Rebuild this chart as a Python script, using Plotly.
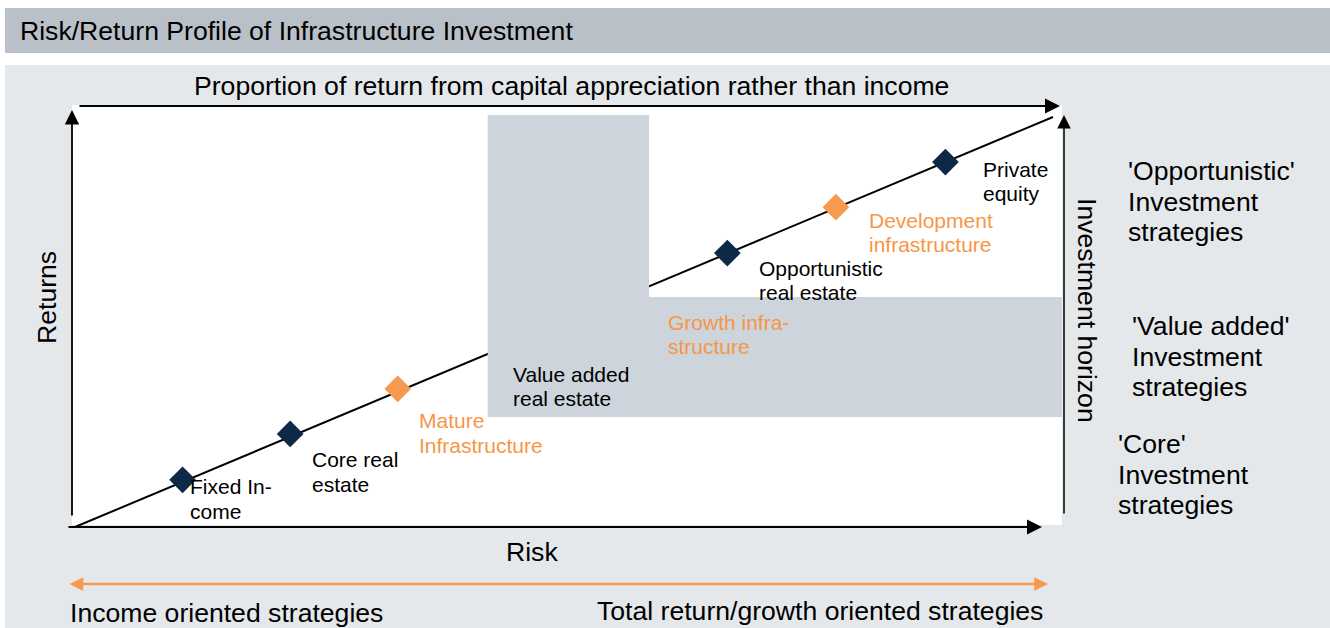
import plotly.graph_objects as go

W, H = 1330, 628

# ---------------- data ----------------
categories = ["Fixed Income", "Core real estate", "Mature Infrastructure",
              "Opportunistic real estate", "Development infrastructure", "Private equity"]
risk = [1.1, 2.2, 3.3, 6.67, 7.78, 8.9]
returns = [1.15, 2.27, 3.37, 6.68, 7.8, 8.9]
is_infrastructure = [False, False, True, False, True, False]
label_lines = [["Fixed In-", "come"], ["Core real", "estate"], ["Mature", "Infrastructure"],
               ["Opportunistic", "real estate"], ["Development", "infrastructure"], ["Private", "equity"]]

trend_risk = [0, 10]
trend_return = [0, 10]

zone_risk = [4.22, 4.22, 5.87, 5.87, 10.09, 10.09, 4.22]
zone_return = [2.68, 10.05, 10.05, 5.61, 5.61, 2.68, 2.68]
zone_labels = [["Value added", "real estate"], ["Growth infra-", "structure"]]

tier_labels = [["'Opportunistic'", "Investment", "strategies"],
               ["'Value added'", "Investment", "strategies"],
               ["'Core'", "Investment", "strategies"]]

# ---------------- style / layout ----------------
FONT = "Liberation Sans, Arial, sans-serif"
NAVY = "#0e2848"
ORANGE = "#f59a4e"
ORANGE_TXT = "#f79646"
ZONE = "#cdd4db"
PANEL = "#e5e8eb"
BAR = "#b9c0c7"
BIG = 26.6

# pixel mapping of data axes (plot spans full figure)
X0PX, SX = 75, 97.8
Y0PX, SY = 527, 41.0


def px(x):
    return x / W


def py(y):
    return 1 - y / H


fig = go.Figure()

fig.add_trace(go.Scatter(x=trend_risk, y=trend_return, mode="lines",
                         line=dict(color="black", width=2), hoverinfo="skip", showlegend=False))
fig.add_trace(go.Scatter(x=zone_risk, y=zone_return, mode="lines", fill="toself",
                         fillcolor=ZONE, line=dict(width=0, color=ZONE),
                         hoverinfo="skip", showlegend=False))
fig.add_trace(go.Scatter(x=risk, y=returns, mode="markers", text=categories,
                         marker=dict(symbol="diamond", size=20.5,
                                     color=[ORANGE if f else NAVY for f in is_infrastructure],
                                     line=dict(width=0)),
                         hoverinfo="text", showlegend=False))

shapes = [
    dict(type="rect", xref="paper", yref="paper", x0=px(5), x1=px(1330), y0=py(53), y1=py(8),
         fillcolor=BAR, line=dict(width=0), layer="below"),
    dict(type="rect", xref="paper", yref="paper", x0=px(5), x1=px(1330), y0=py(628), y1=py(65),
         fillcolor=PANEL, line=dict(width=0), layer="below"),
    dict(type="rect", xref="paper", yref="paper", x0=px(72), x1=px(1062), y0=py(525), y1=py(105),
         fillcolor="white", line=dict(width=0), layer="below"),
]

ann = []


def text(t, x, y, size=BIG, color="black", xanchor="left", angle=0):
    ann.append(dict(text=t, x=px(x), y=py(y), xref="paper", yref="paper", showarrow=False,
                    xanchor=xanchor, yanchor="middle", textangle=angle,
                    font=dict(family=FONT, size=size, color=color)))


def arrow(x0, y0, x1, y1, color="black", width=2, size=1.5, side="end"):
    ann.append(dict(text="", x=px(x1), y=py(y1), xref="paper", yref="paper",
                    ax=x0 - x1, ay=y0 - y1, axref="pixel", ayref="pixel",
                    showarrow=True, arrowhead=2, arrowsize=size, arrowwidth=width,
                    arrowcolor=color, arrowside=side, startarrowhead=2, startarrowsize=size,
                    standoff=0, startstandoff=0))


# title
text("Risk/Return Profile of Infrastructure Investment", 18, 31)

# axes arrows
arrow(72, 517, 72, 110, width=1.8, size=1.6)
arrow(67, 527, 1042, 527, width=2, size=1.5)
arrow(78, 106, 1060, 106, width=2, size=1.5)
arrow(1064, 515, 1064, 115, width=1.5, size=1.8)
arrow(68, 584, 1048, 584, color=ORANGE, width=2.5, size=1.1, side="end+start")

text("Proportion of return from capital appreciation rather than income", 571, 86, xanchor="center")
text("Returns", 47, 298, xanchor="center", angle=-90)
text("Risk", 532, 552, xanchor="center")
text("Investment horizon", 1087, 310, xanchor="center", angle=90)
text("Income oriented strategies", 68, 613)
text("Total return/growth oriented strategies", 1045, 611, xanchor="right")

# tier labels on the right
tier_pos = [(1126, 171), (1130, 326), (1116, 444)]
for lines, (x, y) in zip(tier_labels, tier_pos):
    for i, t in enumerate(lines):
        text(t, x, y + i * 30.5)

# point labels, attached to markers via pixel shifts
label_shift = [(5, 7), (20, 26), (19, 32), (30, 15), (31, 13), (36, 7)]
for xv, yv, lines, infra, (dx, dy) in zip(risk, returns, label_lines, is_infrastructure, label_shift):
    for i, t in enumerate(lines):
        ann.append(dict(text=t, x=xv, y=yv, xref="x", yref="y", showarrow=False,
                        xanchor="left", yanchor="middle", xshift=dx, yshift=-(dy + 24.5 * i),
                        font=dict(family=FONT, size=21, color=ORANGE_TXT if infra else "black")))

# zone labels
zone_label_pos = [(511, 374), (666, 322)]
zone_label_color = ["black", ORANGE_TXT]
for lines, (x, y), c in zip(zone_labels, zone_label_pos, zone_label_color):
    for i, t in enumerate(lines):
        text(t, x, y + i * 24.5, size=21, color=c)

fig.update_layout(
    width=W, height=H, autosize=False,
    margin=dict(l=0, r=0, t=0, b=0, pad=0),
    paper_bgcolor="white", plot_bgcolor="white",
    xaxis=dict(range=[-X0PX / SX, (W - X0PX) / SX], visible=False, fixedrange=True),
    yaxis=dict(range=[(Y0PX - H) / SY, Y0PX / SY], visible=False, fixedrange=True),
    shapes=shapes, annotations=ann, showlegend=False,
)

fig.write_html("out.html", config={"displayModeBar": False},
               post_script="document.body.style.margin='0';document.body.style.overflow='hidden';")
